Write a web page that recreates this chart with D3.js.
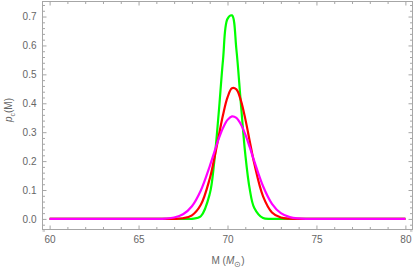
<!DOCTYPE html>
<html>
<head>
<meta charset="utf-8">
<script src="https://cdn.jsdelivr.net/npm/d3@7"></script>
<style>
  html, body { margin: 0; padding: 0; background: #fff; }
  svg { display: block; font-family: "Liberation Sans", Arial, sans-serif; }
  .tick text { fill: #666; font-size: 10px; }
  .tick line { stroke: #a6a6a6; }
</style>
</head>
<body>
<div id="chart"></div>
<script>
// Data: mass grid (solar masses) and the three density curves
const massGrid = [60, 64, 65, 66, 66.5, 67, 67.5, 68, 68.5, 69, 69.25, 69.5, 69.75, 70,
  70.25, 70.5, 70.75, 71, 71.25, 71.5, 72, 72.5, 73, 73.5, 74, 74.5, 75, 76, 80];
const greenValues = [0, 0, 0, 0, 0, 0, 0.00002, 0.0004, 0.0093, 0.086, 0.195, 0.362, 0.552, 0.692,
  0.704, 0.586, 0.4, 0.224, 0.103, 0.039, 0.003, 0.0001, 0, 0, 0, 0, 0, 0, 0];
const redValues = [0, 0, 0, 0, 0.00003, 0.0003, 0.0023, 0.0125, 0.049, 0.139, 0.207, 0.284, 0.36, 0.42,
  0.452, 0.448, 0.41, 0.346, 0.269, 0.193, 0.078, 0.0225, 0.0047, 0.0007, 0.0001, 0, 0, 0, 0];
const magentaValues = [0, 0, 0, 0.0002, 0.0012, 0.0048, 0.016, 0.044, 0.0985, 0.182, 0.2295, 0.2756, 0.315, 0.3425,
  0.3547, 0.3494, 0.3277, 0.2924, 0.248, 0.2008, 0.113, 0.0523, 0.0198, 0.0062, 0.0016, 0.0003, 0.0001, 0, 0];

const xTickValues = [60, 65, 70, 75, 80];
const yTickValues = [0, 0.1, 0.2, 0.3, 0.4, 0.5, 0.6, 0.7];

// drawn in this order, magenta ends up on top
const seriesColors = ["#00ff00", "#ff0000", "#ff00ff"];

const width = 415;
const height = 274;
// frame box in pixels
const frame = { left: 42.5, right: 412.5, top: 1.5, bottom: 229.5 };

// plot range includes Mathematica's little padding around the data
const xScale = d3.scaleLinear()
  .domain([59.6, 80.4])
  .range([frame.left, frame.right]);

const yScale = d3.scaleLinear()
  .domain([-0.0366, 0.752])
  .range([frame.bottom, frame.top]);

const svg = d3.select("#chart")
  .append("svg")
  .attr("width", width)
  .attr("height", height);

// minor tick positions
const xMinor = d3.range(60, 80.5, 1).filter(d => d % 5 !== 0);
const yMinor = d3.range(-2, 38, 1).map(d => d / 50).filter(d => Math.round(d * 50) % 5 !== 0);

// bottom axis with labels
svg.append("g")
  .attr("transform", `translate(0, ${frame.bottom})`)
  .call(d3.axisBottom(xScale).tickValues(xTickValues).tickSizeInner(-4).tickSizeOuter(0).tickPadding(6)
    .tickFormat(d3.format("d")))
  .call(g => g.select(".domain").remove());

svg.append("g")
  .attr("transform", `translate(0, ${frame.bottom})`)
  .call(d3.axisBottom(xScale).tickValues(xMinor).tickSizeInner(-2.5).tickSizeOuter(0).tickFormat(""))
  .call(g => g.select(".domain").remove());

// top axis, ticks only
svg.append("g")
  .attr("transform", `translate(0, ${frame.top})`)
  .call(d3.axisTop(xScale).tickValues(xTickValues).tickSizeInner(-4).tickSizeOuter(0).tickFormat(""))
  .call(g => g.select(".domain").remove());

svg.append("g")
  .attr("transform", `translate(0, ${frame.top})`)
  .call(d3.axisTop(xScale).tickValues(xMinor).tickSizeInner(-2.5).tickSizeOuter(0).tickFormat(""))
  .call(g => g.select(".domain").remove());

// left axis with labels
svg.append("g")
  .attr("transform", `translate(${frame.left}, 0)`)
  .call(d3.axisLeft(yScale).tickValues(yTickValues).tickSizeInner(-4).tickSizeOuter(0).tickPadding(6)
    .tickFormat(d3.format(".1f")))
  .call(g => g.select(".domain").remove());

svg.append("g")
  .attr("transform", `translate(${frame.left}, 0)`)
  .call(d3.axisLeft(yScale).tickValues(yMinor).tickSizeInner(-2.5).tickSizeOuter(0).tickFormat(""))
  .call(g => g.select(".domain").remove());

// right axis, ticks only
svg.append("g")
  .attr("transform", `translate(${frame.right}, 0)`)
  .call(d3.axisRight(yScale).tickValues(yTickValues).tickSizeInner(-4).tickSizeOuter(0).tickFormat(""))
  .call(g => g.select(".domain").remove());

svg.append("g")
  .attr("transform", `translate(${frame.right}, 0)`)
  .call(d3.axisRight(yScale).tickValues(yMinor).tickSizeInner(-2.5).tickSizeOuter(0).tickFormat(""))
  .call(g => g.select(".domain").remove());

// frame
svg.append("rect")
  .attr("x", frame.left)
  .attr("y", frame.top)
  .attr("width", frame.right - frame.left)
  .attr("height", frame.bottom - frame.top)
  .attr("fill", "none")
  .attr("stroke", "#a6a6a6")
  .attr("stroke-width", 1);

// curves
const series = [greenValues, redValues, magentaValues];

const line = d3.line()
  .x((d, i) => xScale(massGrid[i]))
  .y(d => yScale(d))
  .curve(d3.curveCatmullRom.alpha(0.5));

svg.append("g")
  .selectAll("path.curve")
  .data(series)
  .join("path")
  .attr("class", "curve")
  .attr("d", line)
  .attr("fill", "none")
  .attr("stroke", (d, i) => seriesColors[i])
  .attr("stroke-width", 2.2)
  .attr("stroke-linejoin", "round");

// axis labels
const xLabel = svg.append("text")
  .attr("x", 228)
  .attr("y", 264)
  .attr("text-anchor", "middle")
  .attr("fill", "#666")
  .attr("font-size", 10);
xLabel.append("tspan").text("M (");
xLabel.append("tspan").attr("font-style", "italic").text("M");
xLabel.append("tspan").attr("font-size", 8).attr("dy", 3).text("\u2299");
xLabel.append("tspan").attr("dy", -3).text(")");

const yLabel = svg.append("text")
  .attr("transform", "translate(12, 110) rotate(-90)")
  .attr("text-anchor", "middle")
  .attr("fill", "#666")
  .attr("font-size", 10);
yLabel.append("tspan").attr("font-style", "italic").text("p");
yLabel.append("tspan").attr("font-size", 7).attr("dy", 2.5).text("c");
yLabel.append("tspan").attr("dy", -2.5).text("(M)");
</script>
</body>
</html>
